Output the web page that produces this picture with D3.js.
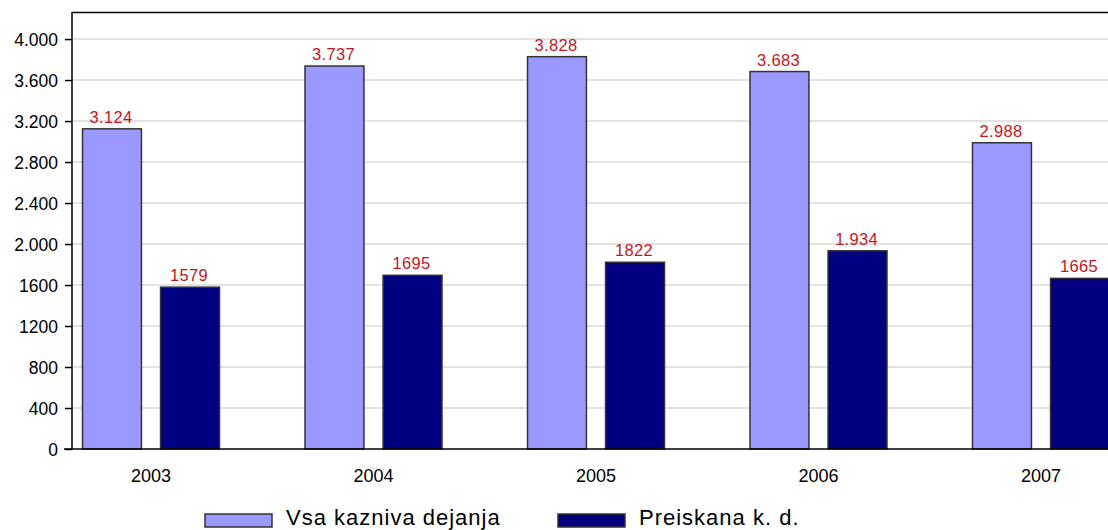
<!DOCTYPE html>
<html>
<head>
<meta charset="utf-8">
<script src="https://cdn.jsdelivr.net/npm/d3@7"></script>
<style>
  body { margin: 0; background: #fff; }
  svg { display: block; font-family: "Liberation Sans", Arial, sans-serif; }
</style>
</head>
<body>
<div id="chart"></div>
<script>
// data
const years = ["2003", "2004", "2005", "2006", "2007"];
const vsaDejanja = [3124, 3737, 3828, 3683, 2988];
const preiskana = [1579, 1695, 1822, 1934, 1665];
const vsaLabels = ["3.124", "3.737", "3.828", "3.683", "2.988"];
const preiskanaLabels = ["1579", "1695", "1822", "1.934", "1665"];
const yTicks = [0, 400, 800, 1200, 1600, 2000, 2400, 2800, 3200, 3600, 4000];
const yTickLabels = ["0", "400", "800", "1200", "1600", "2.000", "2.400", "2.800", "3.200", "3.600", "4.000"];
const seriesNames = ["Vsa kazniva dejanja", "Preiskana k. d."];
const colors = ["#9999ff", "#000080"];

const width = 1108, height = 530;
const plotLeft = 72, plotTop = 12, plotBottom = 449, plotRight = 1120;

const svg = d3.select("#chart").append("svg")
    .attr("width", width)
    .attr("height", height);

const y = d3.scaleLinear().domain([0, 4264]).range([plotBottom, plotTop]);
const x = d3.scalePoint().domain(years).range([150.5, 1040.5]);
const inner = d3.scaleBand().domain([0, 1]).range([-68, 69]).paddingInner(0.245);

// grid
svg.append("g")
    .selectAll("line")
    .data(yTicks.filter(d => d > 0))
    .join("line")
    .attr("x1", plotLeft).attr("x2", plotRight)
    .attr("y1", d => y(d)).attr("y2", d => y(d))
    .style("stroke", "#e2e2e2")
    .style("stroke-width", 2);

// frame top
svg.append("line")
    .attr("x1", plotLeft).attr("x2", plotRight)
    .attr("y1", plotTop + 0.5).attr("y2", plotTop + 0.5)
    .style("stroke", "#000").style("stroke-width", 1.5);

// bars
const series = [vsaDejanja, preiskana];
const labels = [vsaLabels, preiskanaLabels];
series.forEach((vals, s) => {
    const g = svg.append("g");
    g.selectAll("rect")
        .data(vals)
        .join("rect")
        .attr("x", (d, i) => x(years[i]) + inner(s))
        .attr("y", d => y(d))
        .attr("width", inner.bandwidth())
        .attr("height", d => y(0) - y(d))
        .style("fill", colors[s])
        .style("stroke", "#333")
        .style("stroke-width", 1.5);
    g.selectAll("text")
        .data(vals)
        .join("text")
        .attr("x", (d, i) => x(years[i]) + inner(s) + inner.bandwidth() / 2 - 1)
        .attr("y", d => y(d) - 6)
        .attr("text-anchor", "middle")
        .style("font-size", "16.5px")
        .style("letter-spacing", "0.3px")
        .style("fill", "#c8141e")
        .text((d, i) => labels[s][i]);
});

// y axis
const yAxis = d3.axisLeft(y)
    .tickValues(yTicks)
    .tickSize(7)
    .tickPadding(7)
    .tickFormat((d, i) => yTickLabels[i]);
const ya = svg.append("g")
    .attr("transform", `translate(${plotLeft},0)`)
    .call(yAxis);
ya.select(".domain").attr("d", `M0,${plotTop}V${plotBottom}`).style("stroke-width", 1.5);
ya.selectAll(".tick line").style("stroke-width", 1.5);
ya.selectAll("text").style("font-size", "17.5px").style("fill", "#000")
    .attr("dy", "0.36em");

// x axis
const xa = svg.append("g")
    .attr("transform", `translate(0,${plotBottom})`)
    .call(d3.axisBottom(x).tickSize(0).tickPadding(20));
xa.select(".domain").attr("d", `M${plotLeft - 8},0H${plotRight}`).style("stroke-width", 1.5);
xa.selectAll("text").style("font-size", "18px").style("fill", "#000");

// legend
const legend = svg.append("g");
const legendX = [205, 558];
seriesNames.forEach((name, s) => {
    legend.append("rect")
        .attr("x", legendX[s]).attr("y", 514)
        .attr("width", 67).attr("height", 13)
        .style("fill", colors[s])
        .style("stroke", "#333").style("stroke-width", 1.5);
    legend.append("text")
        .attr("x", legendX[s] + 81).attr("y", 525)
        .style("font-size", "22px")
        .style("letter-spacing", "1px")
        .text(name);
});
</script>
</body>
</html>
